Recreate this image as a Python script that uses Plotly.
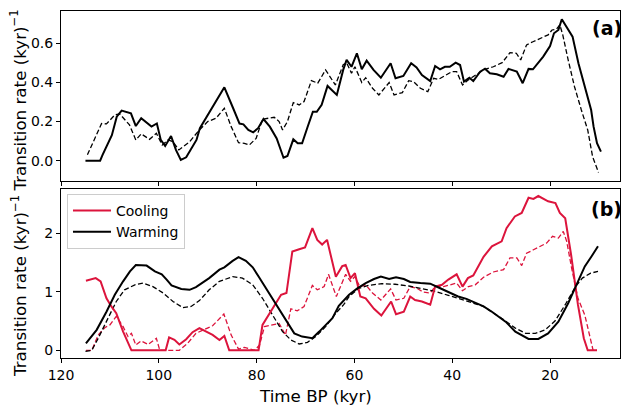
import plotly.graph_objects as go

# ---------------- Panel (a): total transition rate ----------------
a_solid_t = [115, 112, 111.5, 110.7, 109.6, 108.6, 107.6, 105.7, 104.7, 103.6, 101.5, 100.4, 99.6, 98.7,
             97.5, 96.5, 95.5, 94.4, 92.3, 91.6, 90.6, 88.9, 86.6, 84.8, 83.5, 82.7, 81.7, 80.7, 79.7, 78.6,
             77.3, 75.9, 74.5, 73.7, 72.5, 71.6, 70.7, 69.6, 68.5, 67.7, 66.7, 65.5, 63.6, 62.3, 61.6, 60.6,
             59.5, 58.5, 57.5, 56.1, 54.6, 52.6, 51.6, 50, 48.4, 47.3, 46.2, 44.5, 43.5, 42.5, 41.5, 40.5,
             39.3, 38.4, 37.6, 36.5, 35.7, 34.3, 33.3, 32.3, 30.9, 29.5, 28.5, 26.8, 25.6, 24.4, 23.5, 21.4,
             20, 19.2, 18.3, 17.6, 16.5, 15.4, 14.2, 12.8, 11.6, 11.1, 10.4, 9.6]
a_solid_v = [0, 0, 0.03, 0.07, 0.13, 0.225, 0.256, 0.242, 0.177, 0.217, 0.174, 0.19, 0.106, 0.075,
             0.126, 0.055, 0.004, 0.017, 0.106, 0.166, 0.208, 0.276, 0.375, 0.268, 0.19, 0.186, 0.157, 0.145, 0.166, 0.213,
             0.174, 0.114, 0.015, 0.024, 0.109, 0.089, 0.089, 0.171, 0.25, 0.25, 0.285, 0.382, 0.336, 0.464, 0.515, 0.48,
             0.549, 0.467, 0.511, 0.464, 0.424, 0.498, 0.421, 0.433, 0.498, 0.477, 0.438, 0.407, 0.484, 0.467, 0.48, 0.48,
             0.501, 0.489, 0.404, 0.424, 0.407, 0.455, 0.47, 0.447, 0.442, 0.429, 0.469, 0.455, 0.396, 0.469, 0.467, 0.532,
             0.586, 0.651, 0.668, 0.723, 0.677, 0.634, 0.498, 0.361, 0.259, 0.174, 0.089, 0.046]

a_dash_t = [114.6, 111.7, 110.7, 109, 108, 106, 104.7, 103.6, 101.9, 100.5, 99.3, 98.1, 97.1, 95.9, 93.7,
            91.7, 90, 88.3, 86.6, 85.2, 83.7, 82.5, 81.5, 80.1, 78.8, 76.4, 75.4, 74.7, 73.7, 72.5, 71.3,
            70.3, 68.8, 67.5, 65.9, 63.9, 62.3, 61.6, 60.6, 59.9, 58.5, 57.7, 56.3, 55, 52.9, 51.9, 50.2,
            48.9, 47.9, 46.5, 45, 43.8, 42.8, 41.4, 40.1, 39.1, 37.9, 36.7, 35.3, 33.6, 31.6, 29.8, 28.2,
            26.9, 26, 24.8, 23.5, 21.8, 20.4, 19.6, 18.7, 18, 17.4, 16.3, 15, 13.6, 12.3, 11.3, 10.1]
a_dash_v = [0.03, 0.19, 0.188, 0.234, 0.239, 0.183, 0.106, 0.137, 0.109, 0.14, 0.08, 0.106, 0.097, 0.055, 0.097,
            0.157, 0.2, 0.217, 0.268, 0.174, 0.092, 0.089, 0.08, 0.114, 0.212, 0.222, 0.2, 0.157, 0.2, 0.297, 0.285,
            0.302, 0.409, 0.396, 0.464, 0.387, 0.49, 0.50, 0.447, 0.48, 0.40, 0.424, 0.37, 0.336, 0.399, 0.336, 0.348,
            0.409, 0.404, 0.37, 0.353, 0.421, 0.416, 0.438, 0.455, 0.455, 0.387, 0.413, 0.438, 0.464, 0.48, 0.501, 0.552,
            0.549, 0.515, 0.592, 0.608, 0.626, 0.643, 0.668, 0.672, 0.694, 0.643, 0.515, 0.378, 0.259, 0.157, 0.02, -0.06]

# ---------------- Panel (b): cooling / warming ----------------
cool_t = [114.9, 112.9, 111.9, 110.7, 109.7, 108.7, 107.3, 105.6, 98.6, 97.9, 96.8, 95.8, 94.4, 93.1, 91.7,
          90.3, 89, 87.6, 86.6, 85.6, 79.6, 78.8, 77.3, 76.1, 75, 73.9, 72.7, 71.3, 70.1, 68.6, 67.6, 66.6,
          65.6, 63.8, 62.5, 61.8, 60.8, 59.9, 58.8, 57.7, 56, 54.5, 52.5, 51.5, 49.9, 48.6, 47.6, 46.2, 44.5,
          43.5, 42.1, 40.8, 39.1, 37.9, 36.8, 35.7, 33.6, 31.9, 29.9, 28.9, 27.2, 25.8, 24.4, 23.4, 22.4,
          20.4, 18.9, 18, 16.9, 15.7, 14.3, 13.1, 12.3, 10.4]
cool_v = [1.19, 1.235, 1.18, 0.89, 0.75, 0.635, 0.32, 0, 0, 0.22, 0.18, 0.1, 0.19, 0.31, 0.38,
          0.32, 0.263, 0.177, 0.245, 0, 0, 0.435, 0.635, 0.806, 0.95, 0.98, 1.69, 1.73, 1.76, 2.09, 1.89, 1.81,
          1.89, 1.26, 1.44, 1.46, 1.235, 1.32, 0.92, 0.89, 0.71, 0.595, 0.835, 0.617, 0.66, 0.92, 0.86, 0.835, 0.78,
          1.09, 1.12, 1.21, 1.30, 1.09, 1.235, 1.28, 1.6, 1.78, 1.865, 2.09, 2.29, 2.35, 2.61, 2.59, 2.64,
          2.55, 2.52, 2.35, 2.26, 1.635, 0.78, 0.206, 0, 0]

cool_fit_t = [114.9, 113.7, 112.4, 111, 110, 108.7, 107.3, 106.3, 105.6, 104.7, 103.6, 102.2, 100.5, 99.8,
              95.8, 94.1, 92.4, 90.7, 89, 86.7, 85.2, 83.7, 82.5, 80.4, 79.4, 78.4, 76.7, 75.4, 74.1, 73,
              71.7, 70.3, 68.6, 67.6, 66.2, 65.3, 63.7, 62.2, 61.8, 60.8, 59.9, 58.9, 57.7, 56.3, 54.6, 52.6,
              51.5, 49.9, 48.6, 47.2, 45.9, 44.5, 43.5, 41.8, 40.4, 39.1, 37.9, 36.7, 35.3, 33.6, 31.6, 29.5,
              28.2, 26.8, 25.8, 24.8, 23.4, 22, 20.7, 19.5, 18.3, 17.3, 16.6, 15.6, 14.3, 12.9, 11.2, 10.4]
cool_fit_v = [0, 0, 0.26, 0.39, 0.435, 0.58, 0.405, 0.235, 0.29, 0.09, 0.16, 0.10, 0.205, 0,
              0, 0.12, 0.29, 0.35, 0.42, 0.62, 0.26, 0.02, 0.05, 0, 0.09, 0.405, 0.435, 0.46, 0.26, 0.71,
              0.675, 0.75, 1.11, 1.035, 1.09, 1.30, 0.92, 1.235, 1.30, 1.18, 1.26, 1.09, 1.12, 0.98, 0.86, 1.05,
              0.86, 0.89, 1.09, 1.06, 0.995, 0.98, 1.09, 1.09, 1.12, 1.15, 1.02, 1.09, 1.12, 1.25, 1.34, 1.38,
              1.58, 1.58, 1.45, 1.66, 1.72, 1.78, 1.835, 1.95, 1.92, 2.035, 1.865, 1.41, 0.89, 0.605, 0, 0]

warm_t = [114.9, 112.7, 110.7, 109, 107.3, 105.9, 104.7, 102.5, 100.8, 99.4, 98.4, 97.4, 95.4, 93.7, 92.4,
          91.2, 89.7, 87.6, 86.6, 84.9, 83.7, 82.2, 80.8, 79.5, 78.1, 76.8, 75.4, 73.9, 72.3, 70.7, 68.6,
          67.2, 65.9, 64.5, 63.2, 61.1, 59.4, 57.7, 56, 54.6, 52.9, 51.5, 49.9, 48.6, 46.5, 44.5, 42.8,
          40.8, 38.8, 37.1, 35.3, 33.6, 31.9, 29.1, 27.1, 24.4, 22.4, 20.4, 18.3, 16.3, 14.6, 12.9, 11.5, 10.2]
warm_v = [0.12, 0.35, 0.66, 0.95, 1.18, 1.35, 1.46, 1.45, 1.35, 1.30, 1.21, 1.11, 1.05, 1.035, 1.08,
          1.15, 1.235, 1.38, 1.42, 1.53, 1.595, 1.53, 1.42, 1.25, 1.06, 0.89, 0.69, 0.49, 0.29, 0.235, 0.206,
          0.32, 0.435, 0.55, 0.76, 0.95, 1.06, 1.15, 1.22, 1.26, 1.22, 1.25, 1.22, 1.17, 1.15, 1.14, 1.075,
          0.995, 0.92, 0.88, 0.82, 0.75, 0.66, 0.49, 0.32, 0.195, 0.195, 0.29, 0.49, 0.805, 1.12, 1.435, 1.61, 1.78]

warm_fit_t = [115, 113.7, 112.4, 110.7, 108.7, 107, 104.9, 103.2, 101.2, 99.1, 97.1, 95.1, 93.4, 91.7, 89.7,
              87.6, 84.9, 82.9, 80.8, 78.8, 76.8, 74.7, 73, 71.3, 69.6, 67.9, 65.9, 63.8, 62.2, 61.1, 59.1,
              57.1, 54.4, 51.7, 48.9, 46.2, 43.5, 40.8, 38.1, 35.3, 33.6, 31.9, 29.1, 27.1, 25, 23, 21, 19,
              16.9, 14.8, 13.4, 11.7, 10.2]
warm_fit_v = [-0.02, 0.0, 0.205, 0.49, 0.835, 1.035, 1.12, 1.15, 1.09, 0.98, 0.835, 0.73, 0.75, 0.85, 1.035,
              1.18, 1.26, 1.235, 1.12, 0.89, 0.605, 0.32, 0.177, 0.108, 0.137, 0.235, 0.405, 0.635, 0.78, 0.92, 1.06,
              1.11, 1.14, 1.13, 1.10, 1.06, 1.01, 0.94, 0.875, 0.795, 0.75, 0.66, 0.50, 0.38, 0.29, 0.29, 0.35, 0.50,
              0.78, 1.09, 1.235, 1.32, 1.35]

x_ticks = [120, 100, 80, 60, 40, 20]
ya_ticks = [0.0, 0.2, 0.4, 0.6]
yb_ticks = [0, 1, 2]

RED = "#DC143C"
FONT = "DejaVu Sans"
DASH = "5px,2.5px"

fig = go.Figure()
fig.add_trace(go.Scatter(x=a_dash_t, y=a_dash_v, mode="lines", xaxis="x", yaxis="y",
                         line=dict(color="black", width=1.3, dash=DASH), showlegend=False))
fig.add_trace(go.Scatter(x=a_solid_t, y=a_solid_v, mode="lines", xaxis="x", yaxis="y",
                         line=dict(color="black", width=2), showlegend=False))

fig.add_trace(go.Scatter(x=cool_fit_t, y=cool_fit_v, mode="lines", xaxis="x2", yaxis="y2",
                         line=dict(color=RED, width=1.3, dash=DASH), showlegend=False))
fig.add_trace(go.Scatter(x=warm_fit_t, y=warm_fit_v, mode="lines", xaxis="x2", yaxis="y2",
                         line=dict(color="black", width=1.3, dash=DASH), showlegend=False))
fig.add_trace(go.Scatter(x=cool_t, y=cool_v, mode="lines", xaxis="x2", yaxis="y2", name="Cooling",
                         line=dict(color=RED, width=2)))
fig.add_trace(go.Scatter(x=warm_t, y=warm_v, mode="lines", xaxis="x2", yaxis="y2", name="Warming",
                         line=dict(color="black", width=2)))

axis_common = dict(showline=True, linecolor="black", linewidth=1, mirror=True, ticks="outside",
                   ticklen=4, tickwidth=1, tickcolor="black", showgrid=False, zeroline=False,
                   tickfont=dict(family=FONT, size=14, color="black"))

XR = [120, 5.7]
fig.update_layout(
    width=622, height=408,
    margin=dict(l=61, r=2, t=11, b=50),
    paper_bgcolor="white", plot_bgcolor="white",
    font=dict(family=FONT, size=14, color="black"),
    xaxis=dict(domain=[0, 1], anchor="y", range=XR, tickvals=x_ticks, showticklabels=False, **axis_common),
    yaxis=dict(domain=[0.510, 1], anchor="x", range=[-0.104, 0.765], tickvals=ya_ticks,
               tickformat=".1f", **axis_common),
    xaxis2=dict(domain=[0, 1], anchor="y2", range=XR, tickvals=x_ticks, **axis_common),
    yaxis2=dict(domain=[0, 0.487], anchor="x2", range=[-0.132, 2.76], tickvals=yb_ticks, **axis_common),
    legend=dict(x=0.0107, y=0.4726, xanchor="left", yanchor="top", itemwidth=38,
                bgcolor="rgba(255,255,255,0.9)", bordercolor="#cccccc", borderwidth=1,
                font=dict(family=FONT, size=14, color="black")),
    annotations=[
        dict(text="<b>(a)</b>", xref="paper", yref="paper", x=0.976, y=(358 - 28) / 347,
             xanchor="center", yanchor="middle", showarrow=False,
             font=dict(family=FONT, size=19, color="black")),
        dict(text="<b>(b)</b>", xref="paper", yref="paper", x=0.976, y=(358 - 209) / 347,
             xanchor="center", yanchor="middle", showarrow=False,
             font=dict(family=FONT, size=19, color="black")),
        dict(text="Transition rate (kyr)<sup>−1</sup>", xref="paper", yref="paper",
             x=(19 - 61) / 559, y=(358 - 100.5) / 347, textangle=-90,
             xanchor="center", yanchor="middle", showarrow=False,
             font=dict(family=FONT, size=16.7, color="black")),
        dict(text="Transition rate (kyr)<sup>−1</sup>", xref="paper", yref="paper",
             x=(19 - 61) / 559, y=(358 - 286) / 347, textangle=-90,
             xanchor="center", yanchor="middle", showarrow=False,
             font=dict(family=FONT, size=16.7, color="black")),
        dict(text="Time BP (kyr)", xref="paper", yref="paper",
             x=(315.5 - 61) / 559, y=(358 - 396) / 347,
             xanchor="center", yanchor="middle", showarrow=False,
             font=dict(family=FONT, size=16.7, color="black")),
    ],
)

fig.write_html("out.html", config={"displayModeBar": False},
               post_script="document.body.style.margin='0px';document.body.style.overflow='hidden';")
